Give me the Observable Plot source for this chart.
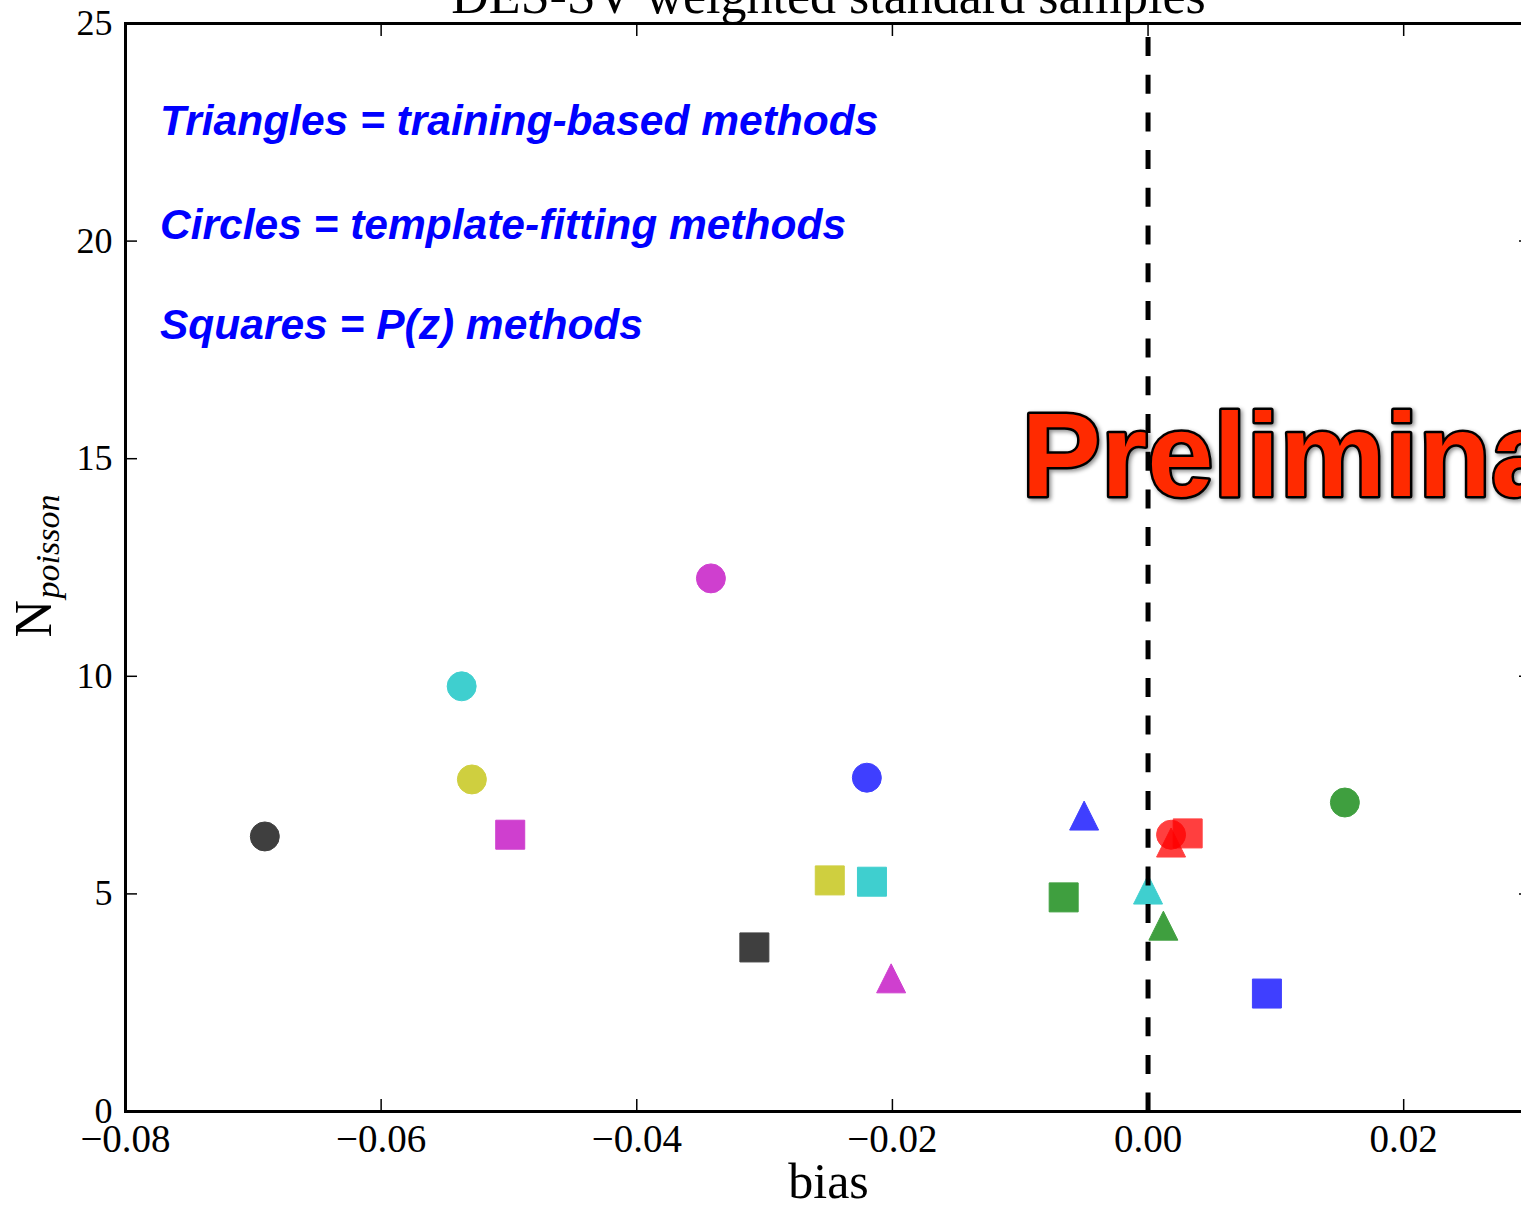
<!DOCTYPE html>
<html>
<head>
<meta charset="utf-8">
<script src="https://cdn.jsdelivr.net/npm/d3@7"></script>
<script src="https://cdn.jsdelivr.net/npm/@observablehq/plot@0.6"></script>
<style>
  html, body { margin: 0; padding: 0; overflow: hidden; background: white; }
</style>
</head>
<body>
<div id="chart"></div>
<script>
// ---- data ----
const titleText = "DES-SV weighted standard samples";
const xLabel = "bias";
const yLabelMain = "N";
const yLabelSub = "poisson";

const xTicks = [-0.08, -0.06, -0.04, -0.02, 0.00, 0.02];
const yTicks = [0, 5, 10, 15, 20, 25];

// training-based methods (triangles)
const triBias  = [-0.0050, 0.0018, 0.0000, 0.0012, -0.0201];
const triN     = [6.80, 6.18, 5.10, 4.27, 3.06];
const triColor = ["#0000ff", "#ff0000", "#00bfbf", "#008000", "#bf00bf"];

// template-fitting methods (circles)
const cirBias  = [-0.0691, -0.0537, -0.0529, -0.0342, -0.0220, 0.0018, 0.0154];
const cirN     = [6.32, 9.77, 7.63, 12.25, 7.67, 6.36, 7.10];
const cirColor = ["#000000", "#00bfbf", "#bfbf00", "#bf00bf", "#0000ff", "#ff0000", "#008000"];

// P(z) methods (squares)
const sqBias  = [-0.0499, -0.0308, -0.0249, -0.0216, -0.0066, 0.0031, 0.0093];
const sqN     = [6.36, 3.77, 5.31, 5.28, 4.92, 6.39, 2.71];
const sqColor = ["#bf00bf", "#000000", "#bfbf00", "#00bfbf", "#008000", "#ff0000", "#0000ff"];

const noteLines = ["Triangles = training-based methods", "Circles = template-fitting methods", "Squares = P(z) methods"];
const noteX = -0.0773;
const noteY = [22.43, 20.04, 17.76];

const prelimText = "Preliminary";
const prelimX = -0.0099;
const prelimY = 14.15;

// ---- build tables ----
const rows = (xs, ys, cs) => xs.map((x, i) => ({bias: x, n: ys[i], color: cs[i]}));
const tri = rows(triBias, triN, triColor);
const cir = rows(cirBias, cirN, cirColor);
const sq  = rows(sqBias, sqN, sqColor);
const notes = noteLines.map((t, i) => ({t, x: noteX, y: noteY[i]}));

// matplotlib-like marker shapes (r = half size)
const rad = s => Math.sqrt(s / Math.PI);
const mplCircle = {draw(ctx, size) { const r = rad(size); ctx.moveTo(r, 0); ctx.arc(0, 0, r, 0, 2 * Math.PI); }};
const mplSquare = {draw(ctx, size) { const r = rad(size); ctx.rect(-r, -r, 2 * r, 2 * r); }};
const mplTriangle = {draw(ctx, size) { const r = rad(size); ctx.moveTo(0, -r); ctx.lineTo(r, r); ctx.lineTo(-r, r); ctx.closePath(); }};

const markerR = 14.5;
const dotOpts = (sym) => ({x: "bias", y: "n", fill: "color", stroke: "color", strokeWidth: 1, opacity: 0.75, r: markerR, symbol: sym});

const serif = "'Liberation Serif', 'Times New Roman', serif";
const fmtX = d3.format(".2f");

const chart = Plot.plot({
  width: 1521,
  height: 1205,
  marginLeft: 125,
  marginRight: -10,
  marginTop: 23,
  marginBottom: 94,
  style: {fontFamily: serif, background: "white", color: "black"},
  x: {domain: [-0.08, 0.03]},
  y: {domain: [0, 25]},
  marks: [
    Plot.dot(tri, dotOpts(mplTriangle)),
    Plot.dot(sq, dotOpts(mplSquare)),
    Plot.dot(cir, dotOpts(mplCircle)),
    Plot.ruleX([0], {stroke: "black", strokeWidth: 5, strokeDasharray: "19,18.7", strokeDashoffset: -14}),
    Plot.frame({stroke: "black", strokeWidth: 3}),
    Plot.axisX({anchor: "bottom", ticks: xTicks, tickSize: -12, tickPadding: 25, tickFormat: fmtX, fontSize: 39, label: null, strokeWidth: 1.5}),
    Plot.axisX({anchor: "top", ticks: xTicks, tickSize: -12, tickFormat: () => "", label: null, strokeWidth: 1.5}),
    Plot.axisY({anchor: "left", ticks: yTicks, tickSize: -12, tickPadding: 25, tickFormat: d => String(d), fontSize: 36, label: null, strokeWidth: 1.5}),
    Plot.axisY({anchor: "right", ticks: yTicks, tickSize: -13, tickFormat: () => "", label: null, strokeWidth: 1.5}),
    Plot.text([titleText], {text: d => d, frameAnchor: "top", dy: -11, lineAnchor: "bottom", fontSize: 52, fill: "black"}),
    Plot.text([xLabel], {text: d => d, frameAnchor: "bottom", dy: 86, lineAnchor: "bottom", fontSize: 50, fill: "black"}),
    Plot.text([yLabelMain], {text: d => d, frameAnchor: "left", rotate: -90, textAnchor: "start", lineAnchor: "bottom", dx: -75, dy: 70, fontSize: 52, fill: "black"}),
    Plot.text([yLabelSub], {text: d => d, frameAnchor: "left", rotate: -90, textAnchor: "start", lineAnchor: "bottom", dx: -67, dy: 31, fontSize: 34, fontStyle: "italic", fill: "black"}),
    Plot.text(notes, {x: "x", y: "y", text: "t", textAnchor: "start", lineAnchor: "bottom", fontFamily: "'Liberation Sans', Arial, sans-serif", fontWeight: "bold", fontStyle: "italic", fontSize: 42.5, fill: "#0000ff"}),
    Plot.text([{t: prelimText, x: prelimX, y: prelimY}], {x: "x", y: "y", text: "t", textAnchor: "start", lineAnchor: "bottom", fontFamily: "'Liberation Sans', Arial, sans-serif", fontWeight: "bold", fontSize: 119, fill: "#ff2a00", stroke: "black", strokeWidth: 5, paintOrder: "stroke", imageFilter: "drop-shadow(2px 2px 2px rgba(0,0,0,0.45))"})
  ]
});
document.getElementById("chart").appendChild(chart);
</script>
</body>
</html>
